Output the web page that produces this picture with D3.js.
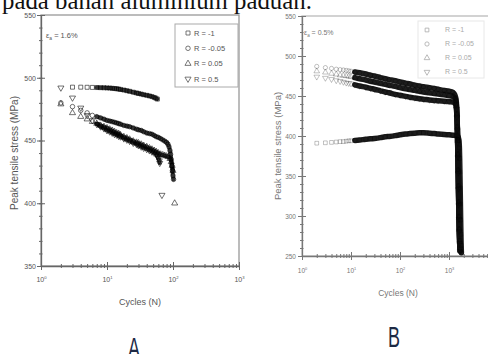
<!DOCTYPE html>
<html>
<head>
<meta charset="utf-8">
<script src="https://cdn.jsdelivr.net/npm/d3@7"></script>
<style>
  body { margin: 0; background: #fff; }
  svg { display: block; }
</style>
</head>
<body>
<svg id="fig" width="488" height="354"></svg>
<script>
const seriesLabels = ['R = -1', 'R = -0.05', 'R = 0.05', 'R = 0.5']
const yTicksA = [350, 400, 450, 500, 550]
const yTicksB = [250, 300, 350, 400, 450, 500, 550]
const decadesA = [1, 10, 100, 1000]
const decadesB = [1, 10, 100, 1000]
const captionLine = 'pada bahan aluminium paduan.'

// panel A (strain 1.6%) : [cycles, peak tensile stress MPa]
const a_Rm1 = [[3,492.5],[4,492.5],[5,492.4],[6,492.3],[7,492.2],[8,492.1],[9,492],[10,491.9],[11,491.8],[12,491.6],[13,491.4],[14,491.2],[15,491],[16,490.7],[18,490.2],[20,489.7],[22,489.2],[25,488.5],[28,487.9],[30,487.5],[33,487],[36,486.5],[40,486],[44,485.5],[48,485],[52,484.3],[55,483.7],[58,483]]
const a_Rm005 = [[2,480],[3,477],[4,474],[5,472],[6,470],[7,469],[8,468],[9,467],[10,466],[11,465.5],[12,465],[13,464.5],[14,464],[15,463.5],[16,463],[18,462],[20,461.5],[22,461],[25,460],[28,459],[30,458.5],[33,458],[36,457],[40,456],[44,455.5],[48,455],[52,454],[56,453],[60,452.5],[65,451.5],[70,450.5],[75,449.5],[80,448.5],[84,447],[87,445],[90,442],[92,439],[94,435],[96,430],[98,426],[100,422],[102,419]]
const a_R005 = [[2,479],[3,472],[4,469],[5,467],[6,465],[7,463.5],[8,462],[9,461],[10,460],[11,459],[12,458],[13,457],[14,456],[15,455.5],[16,454.5],[18,453],[20,452],[22,451],[25,449.5],[28,448.5],[30,448],[33,447],[36,446],[40,445],[44,444],[48,443],[52,442],[56,441],[60,440],[65,439],[70,438.5],[75,438],[80,437.5],[85,437],[90,435.5],[94,433],[97,430],[100,426]]
const a_R05 = [[2,492],[3,484],[4,476],[5,470],[6,466],[7,463],[8,461],[9,459.5],[10,458],[11,457],[12,456],[13,455],[14,454.5],[15,453.5],[16,453],[18,451.5],[20,450.5],[22,449.5],[25,448],[28,447],[30,446],[33,445],[36,444],[40,443],[44,442],[48,441],[52,440],[56,439],[58,437.5],[60,436],[62,434],[63,432]]
// last (failure) cycles, off the curves
const a_R005_last = [[106,400]]
const a_R05_last = [[68,406.5]]

// panel B (strain 0.5%)
const b_Rm1 = [[2,391],[3,391.5],[4,392],[5,392.5],[6,393],[7,393],[8,393.5],[9,394],[10,394],[12,394.5],[15,395],[20,396],[25,396.5],[30,397],[40,398],[50,399],[60,399.5],[80,400.5],[100,401.5],[130,402.5],[160,403],[200,403.5],[250,404],[300,404],[400,403.5],[500,403],[600,402.5],[800,402],[1000,401.5],[1200,401],[1400,400.5],[1500,400],[1550,398],[1600,394],[1630,385],[1650,372],[1670,355],[1690,335],[1710,315],[1730,295],[1750,277],[1770,263],[1790,254]]
const b_Rm005 = [[2,487],[3,485.5],[4,484.5],[5,483.5],[6,483],[7,482.5],[8,482],[9,481.5],[10,481],[12,480],[15,479],[20,477.5],[25,476],[30,475],[40,473],[50,471.5],[60,470.5],[80,469],[100,467.5],[130,466],[160,465],[200,463.5],[250,462.5],[300,461.5],[400,460.5],[500,459.5],[600,458.5],[800,457],[1000,456],[1200,454.5],[1300,452],[1380,447],[1420,440],[1450,428],[1480,412],[1500,396],[1520,378],[1540,358],[1560,338],[1580,318],[1600,300],[1620,284],[1650,270],[1680,260]]
const b_R005 = [[2,481],[3,479.5],[4,478],[5,477],[6,476],[7,475.5],[8,475],[9,474.5],[10,474],[12,473],[15,471.5],[20,470],[25,468.5],[30,467.5],[40,466],[50,464.5],[60,463.5],[80,462],[100,460.5],[130,459],[160,458],[200,457],[250,456],[300,455],[400,454],[500,453],[600,452.5],[800,451.5],[1000,450.5],[1200,449.5],[1300,448],[1380,444],[1420,437],[1450,426],[1480,410],[1500,394],[1520,376],[1540,356],[1560,336],[1580,316],[1600,298],[1620,283],[1650,268],[1680,257]]
const b_R05 = [[2,474],[3,472.5],[4,471],[5,469.5],[6,468.5],[7,467.5],[8,466.5],[9,466],[10,465.5],[12,464],[15,462.5],[20,461],[25,459.5],[30,458.5],[40,456.5],[50,455],[60,454],[80,452],[100,451],[130,449.5],[160,448.5],[200,447.5],[250,446.5],[300,446],[400,445],[500,444.5],[600,444],[800,443.5],[1000,443],[1200,442.5],[1300,441.5],[1380,439],[1420,434],[1450,424],[1480,408],[1500,392],[1520,374],[1540,354],[1560,334],[1580,314],[1600,296],[1620,281],[1650,266],[1680,256]]

const symbolTypes = [d3.symbolSquare, d3.symbolCircle, d3.symbolTriangle, d3.symbolTriangle]
const symbolTurn = [0, 0, 0, 180]

const svg = d3.select('#fig')
const font = 'Liberation Sans, Arial, sans-serif'

// caption text cut by the top edge
svg.append('text')
  .attr('x', 2).attr('y', 9)
  .attr('font-family', 'Liberation Serif, Times New Roman, serif')
  .attr('font-size', 24.8)
  .attr('fill', '#111')
  .text(captionLine)

const drawPanel = (cfg) => {
  const g = svg.append('g').attr('font-family', font)
  const x = d3.scaleLog().domain(cfg.xDomain).range(cfg.xRange)
  const y = d3.scaleLinear().domain(cfg.yDomain).range(cfg.yRange)
  const [x0, x1] = cfg.xRange
  const [yb, yt] = cfg.yRange

  // frame
  g.append('rect')
    .attr('x', x0).attr('y', yt)
    .attr('width', x1 - x0).attr('height', yb - yt)
    .attr('fill', 'none').attr('stroke', cfg.frameColor).attr('stroke-width', 1.3)

  // minor ticks
  const minorX = []
  for (let e = 0; e < cfg.xDecadeCount; e++) for (let m = 2; m < 10; m++) minorX.push(m * Math.pow(10, e))
  g.append('g')
    .attr('transform', `translate(0,${yb})`)
    .call(d3.axisBottom(x).tickValues(minorX).tickSize(2).tickFormat(''))
    .call((s) => s.select('.domain').remove())
    .call((s) => s.selectAll('.tick line').attr('y1', -2).attr('stroke', cfg.axisColor))
  const minorY = d3.range(cfg.yDomain[0], cfg.yDomain[1] + 1, 10)
  g.append('g')
    .attr('transform', `translate(${x0},0)`)
    .call(d3.axisLeft(y).tickValues(minorY).tickSize(2).tickFormat(''))
    .call((s) => s.select('.domain').remove())
    .call((s) => s.selectAll('.tick line').attr('x1', 1.5).attr('stroke', cfg.axisColor))

  // major axes
  const xAxis = g.append('g')
    .attr('transform', `translate(0,${yb})`)
    .call(d3.axisBottom(x).tickValues(cfg.xTicks).tickSize(4).tickSizeOuter(0).tickPadding(cfg.xPad))
  xAxis.select('.domain').attr('stroke', cfg.axisColor).attr('stroke-width', 1.3)
  xAxis.selectAll('.tick line').attr('y1', -4).attr('stroke', cfg.axisColor)
  xAxis.selectAll('.tick text')
    .attr('font-size', cfg.tickFont).attr('fill', cfg.textColor)
    .text('10')
    .append('tspan').attr('dy', -3).attr('font-size', cfg.tickFont * 0.6)
    .text((d) => Math.round(Math.log10(d)))

  const yAxis = g.append('g')
    .attr('transform', `translate(${x0},0)`)
    .call(d3.axisLeft(y).tickValues(cfg.yTicks).tickSize(4).tickSizeOuter(0).tickPadding(cfg.yPad))
  yAxis.select('.domain').attr('stroke', cfg.axisColor).attr('stroke-width', 1.3)
  yAxis.selectAll('.tick line').attr('x1', 4).attr('stroke', cfg.axisColor)
  yAxis.selectAll('.tick text').attr('font-size', cfg.tickFont).attr('fill', cfg.textColor)

  // axis titles
  g.append('text')
    .attr('x', cfg.xTitle[0]).attr('y', cfg.xTitle[1])
    .attr('text-anchor', 'middle').attr('font-size', cfg.titleFont).attr('fill', cfg.textColor)
    .text('Cycles (N)')
  g.append('text')
    .attr('transform', `translate(${cfg.yTitle[0]},${cfg.yTitle[1]}) rotate(-90)`)
    .attr('text-anchor', 'middle').attr('font-size', cfg.yTitleFont).attr('fill', cfg.textColor)
    .text('Peak tensile stress (MPa)')

  // strain note
  const note = g.append('text')
    .attr('x', cfg.note[0]).attr('y', cfg.note[1])
    .attr('font-size', cfg.legendFont).attr('fill', cfg.textColor)
  note.append('tspan').text('ε')
  note.append('tspan').attr('dy', 2).attr('font-size', cfg.legendFont * 0.65).text('a')
  note.append('tspan').attr('dy', -2).text(` = ${cfg.strain}`)

  // dense parts of the curves drawn as a thick trace
  const line = d3.line().x((d) => x(d[0])).y((d) => y(d[1])).curve(d3.curveMonotoneX)
  cfg.series.forEach((s) => {
    g.append('path')
      .datum(s.points.filter((p) => p[0] >= cfg.denseFrom))
      .attr('d', line)
      .attr('fill', 'none')
      .attr('stroke', '#111')
      .attr('stroke-opacity', cfg.traceOpacity)
      .attr('stroke-width', cfg.traceWidth)
      .attr('stroke-linecap', 'round')
      .attr('stroke-linejoin', 'round')
  })

  // markers
  cfg.series.forEach((s, i) => {
    g.append('g')
      .selectAll('path')
      .data(s.points.concat(s.last || []))
      .join('path')
      .attr('transform', (d) => `translate(${x(d[0])},${y(d[1])}) rotate(${symbolTurn[i]})`)
      .attr('d', d3.symbol(symbolTypes[i], cfg.markerSize))
      .attr('fill', 'none')
      .attr('stroke', '#000')
      .attr('stroke-opacity', cfg.markerOpacity)
      .attr('stroke-width', 0.8)
  })

  // legend
  const lg = g.append('g')
  lg.append('rect')
    .attr('x', cfg.legendBox[0]).attr('y', cfg.legendBox[1])
    .attr('width', cfg.legendBox[2]).attr('height', cfg.legendBox[3])
    .attr('fill', '#fff').attr('stroke', cfg.legendStroke).attr('stroke-width', 1)
  seriesLabels.forEach((lab, i) => {
    const ly = cfg.legendRow0 + i * cfg.legendStep
    lg.append('path')
      .attr('transform', `translate(${cfg.legendSym},${ly}) rotate(${symbolTurn[i]})`)
      .attr('d', d3.symbol(symbolTypes[i], cfg.markerSize))
      .attr('fill', 'none').attr('stroke', cfg.legendColor).attr('stroke-width', 0.8)
    lg.append('text')
      .attr('x', cfg.legendText).attr('y', ly).attr('dy', '0.35em')
      .attr('font-size', cfg.legendFont).attr('fill', cfg.legendColor)
      .text(lab)
  })

  // panel letter
  svg.append('text')
    .attr('transform', `translate(${cfg.letter[0]},${cfg.letter[1]}) scale(0.62,1)`)
    .attr('text-anchor', 'middle')
    .attr('font-family', font).attr('font-size', 29)
    .attr('fill', '#1d2a44')
    .text(cfg.letterText)
}

drawPanel({
  xDomain: [1, 1000], xRange: [41, 239], xDecadeCount: 3, xTicks: decadesA,
  yDomain: [350, 550], yRange: [266, 15], yTicks: yTicksA,
  xPad: 7, yPad: 1, tickFont: 7, titleFont: 9, yTitleFont: 10, legendFont: 7.5,
  frameColor: '#999', axisColor: '#666', textColor: '#555',
  xTitle: [140, 305], yTitle: [18, 153],
  note: [46, 38], strain: '1.6%',
  denseFrom: 7, traceWidth: 4, traceOpacity: 0.85, markerSize: 16, markerOpacity: 0.7,
  series: [
    { points: a_Rm1 },
    { points: a_Rm005 },
    { points: a_R005, last: a_R005_last },
    { points: a_R05, last: a_R05_last },
  ],
  legendBox: [175, 24, 63, 63], legendRow0: 33, legendStep: 15.3, legendSym: 188, legendText: 194,
  legendStroke: '#aaa', legendColor: '#555',
  letter: [134, 358], letterText: 'A',
})

drawPanel({
  xDomain: [1, 10000], xRange: [302, 498], xDecadeCount: 4, xTicks: decadesB,
  yDomain: [250, 550], yRange: [256, 16], yTicks: yTicksB,
  xPad: 8, yPad: 2, tickFont: 6.5, titleFont: 8.5, yTitleFont: 9.5, legendFont: 7,
  frameColor: '#bbb', axisColor: '#777', textColor: '#777',
  xTitle: [398, 296], yTitle: [281, 146],
  note: [304, 35], strain: '0.5%',
  denseFrom: 12, traceWidth: 5.5, traceOpacity: 0.95, markerSize: 14, markerOpacity: 0.3,
  series: [
    { points: b_Rm1 },
    { points: b_Rm005 },
    { points: b_R005 },
    { points: b_R05 },
  ],
  legendBox: [418, 21, 66, 57], legendRow0: 30, legendStep: 14, legendSym: 427, legendText: 445,
  legendStroke: '#e8e8e8', legendColor: '#aaa',
  letter: [394, 347], letterText: 'B',
})
</script>
</body>
</html>
